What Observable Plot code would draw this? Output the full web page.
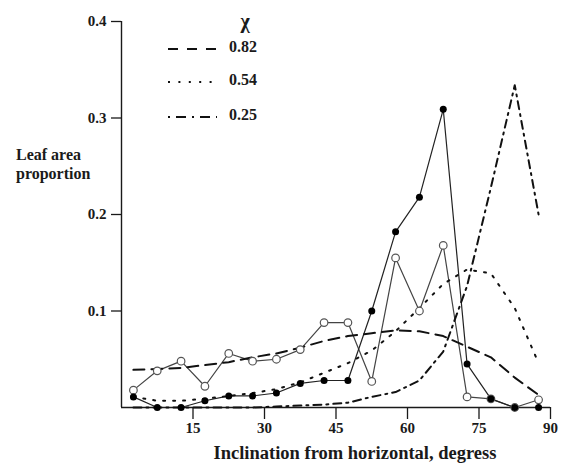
<!DOCTYPE html>
<html><head><meta charset="utf-8">
<script src="https://cdn.jsdelivr.net/npm/d3@7"></script>
<script src="https://cdn.jsdelivr.net/npm/@observablehq/plot@0.6"></script>
<style>
body{margin:0;background:#fff;}
#wrap{position:relative;width:562px;height:463px;}
#wrap svg.ov{position:absolute;left:0;top:0;pointer-events:none;}
</style></head><body><div id="wrap"></div>
<script>
// Inclination class midpoints (degrees)
const angles = [2.5,7.5,12.5,17.5,22.5,27.5,32.5,37.5,42.5,47.5,52.5,57.5,62.5,67.5,72.5,77.5,82.5,87.5];
// Measured leaf area proportion, open circles
const measuredOpen = [0.018,0.038,0.048,0.022,0.056,0.048,0.050,0.060,0.088,0.088,0.027,0.155,0.100,0.168,0.011,0.009,0.000,0.008];
// Measured leaf area proportion, filled circles
const measuredFilled = [0.011,0.000,0.000,0.007,0.012,0.012,0.015,0.025,0.028,0.028,0.100,0.182,0.218,0.309,0.045,0.009,0.000,0.000];
// Ellipsoidal distributions
const chi082 = [0.039,0.040,0.041,0.044,0.047,0.052,0.056,0.062,0.069,0.074,0.077,0.080,0.079,0.074,0.063,0.052,0.031,0.013];
const chi054 = [0.011,0.007,0.007,0.009,0.012,0.015,0.019,0.026,0.036,0.046,0.059,0.079,0.103,0.128,0.143,0.139,0.103,0.046];
const chi025 = [0.000,0.000,0.000,0.000,0.000,0.000,0.001,0.002,0.003,0.005,0.011,0.016,0.028,0.058,0.126,0.228,0.334,0.200];
const legendLabels = ["0.82","0.54","0.25"];
const legendTitle = "χ";
const xTicks = [15,30,45,60,75,90];
const yTicks = [0.1,0.2,0.3,0.4];
const xDomain = [0,90];
const yDomain = [0,0.4];
const xTitle = "Inclination from horizontal, degress";
const yTitle = ["Leaf area","proportion"];

const rows = arr => angles.map((a,i)=>({a, v:arr[i]}));
const dashes = ["11,7","2,8","8,5,2,5"];
const legendDashes = ["10,9","2,8.4","2,6,10,6"];
const curves = [chi082, chi054, chi025];

const FONT = "'Liberation Serif', 'Times New Roman', serif";

const plot = Plot.plot({
  width: 562, height: 463,
  marginLeft: 121, marginRight: 12, marginTop: 21, marginBottom: 56,
  x: {domain: xDomain},
  y: {domain: yDomain},
  style: {fontFamily: FONT, fontSize: "15px", fontWeight: "bold", color: "#1a1a1a", background: "#fff"},
  marks: [
    Plot.axisY({ticks: yTicks, tickSize: 10, tickPadding: 5, tickFormat: d3.format(".1f"), label: null, strokeWidth: 1.3}),
    Plot.axisX({ticks: xTicks, tickSize: 12, tickPadding: 3, label: null, strokeWidth: 1.3}),
    Plot.ruleX([xDomain[0]], {y1: yDomain[0], y2: yDomain[1], stroke: "#1a1a1a", strokeWidth: 1.4}),
    Plot.ruleY([yDomain[0]], {x1: xDomain[0], x2: xDomain[1], stroke: "#1a1a1a", strokeWidth: 1.4}),
    Plot.line(rows(measuredOpen), {x: "a", y: "v", stroke: "#444", strokeWidth: 1.2}),
    Plot.line(rows(measuredFilled), {x: "a", y: "v", stroke: "#222", strokeWidth: 1.2}),
    ...curves.map((c,i)=>Plot.line(rows(c), {x: "a", y: "v", stroke: "#111", strokeWidth: 2, strokeDasharray: dashes[i]})),
    Plot.dot(rows(measuredOpen), {x: "a", y: "v", r: 3.8, fill: "#fff", stroke: "#555", strokeWidth: 1.2}),
    Plot.dot(rows(measuredFilled), {x: "a", y: "v", r: 3.5, fill: "#000"})
  ]
});
const wrap = document.getElementById("wrap");
wrap.appendChild(plot);

// overlay: titles and legend
const ov = d3.select(wrap).append("svg").attr("class","ov").attr("width",562).attr("height",463)
  .style("font-family", FONT).style("font-weight","bold").attr("fill","#1a1a1a");
ov.append("text").attr("x",355).attr("y",459).attr("text-anchor","middle").attr("font-size",18.5).text(xTitle);
yTitle.forEach((t,i)=>ov.append("text").attr("x",16).attr("y",160 + i*18.5).attr("font-size",16).text(t));
ov.append("text").attr("x",245).attr("y",28).attr("text-anchor","middle").attr("font-size",20).text(legendTitle);
const ly = [49,82,117];
legendLabels.forEach((t,i)=>{
  ov.append("line").attr("x1",168).attr("x2",217).attr("y1",ly[i]).attr("y2",ly[i])
    .attr("stroke","#111").attr("stroke-width",2).attr("stroke-dasharray",legendDashes[i]);
  ov.append("text").attr("x",229).attr("y",ly[i]+3).attr("font-size",16).text(t);
});
</script></body></html>
